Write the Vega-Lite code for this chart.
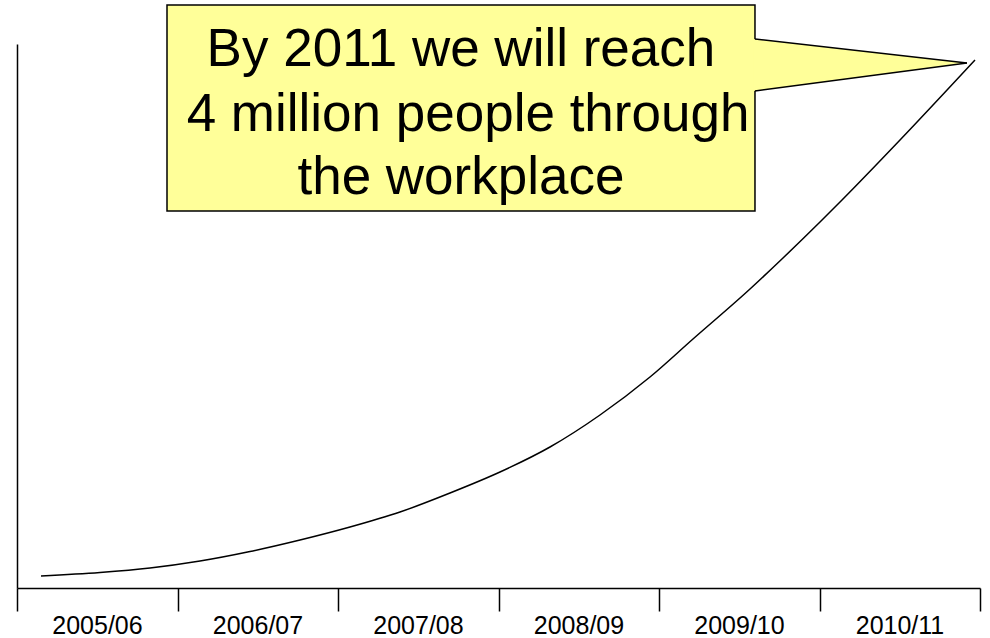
{
  "$schema": "https://vega.github.io/schema/vega-lite/v6.json",
  "width": 963,
  "height": 544,
  "autosize": {"type": "none"},
  "padding": {"left": 17, "top": 44, "right": 10, "bottom": 50},
  "background": "white",
  "config": {"view": {"stroke": null}, "font": "Liberation Sans"},
  "datasets": {
    "curve": [
      {"x": 0.1495, "y": 0.0909},
      {"x": 0.5171, "y": 0.1174},
      {"x": 0.8287, "y": 0.1515},
      {"x": 1.1402, "y": 0.2045},
      {"x": 1.4517, "y": 0.2765},
      {"x": 1.7632, "y": 0.3636},
      {"x": 2.0748, "y": 0.4621},
      {"x": 2.3863, "y": 0.5758},
      {"x": 2.6978, "y": 0.7197},
      {"x": 3.0093, "y": 0.8788},
      {"x": 3.3209, "y": 1.0682},
      {"x": 3.6324, "y": 1.3106},
      {"x": 3.9439, "y": 1.5985},
      {"x": 4.2118, "y": 1.8864},
      {"x": 4.567, "y": 2.2652},
      {"x": 4.7726, "y": 2.5},
      {"x": 5.0031, "y": 2.7727},
      {"x": 5.1402, "y": 2.9394},
      {"x": 5.5016, "y": 3.3939},
      {"x": 5.9688, "y": 4.0}
    ],
    "box": [{"x": 0.9346, "x2": 4.598, "y": 4.417, "y2": 2.856}],
    "pointer": [
      {"x": 4.59, "y": 4.159, "y2": 3.765},
      {"x": 5.919, "y": 3.977, "y2": 3.977}
    ],
    "edges": [
      {"x": 4.598, "y": 4.159, "x2": 5.919, "y2": 3.977},
      {"x": 4.598, "y": 3.765, "x2": 5.919, "y2": 3.977}
    ],
    "labels": [
      {"x": 2.766, "y": 3.954, "text": "By 2011 we will reach"},
      {"x": 2.81, "y": 3.462, "text": "4 million people through"},
      {"x": 2.766, "y": 2.985, "text": "the workplace"}
    ]
  },
  "layer": [
    {
      "data": {"name": "curve"},
      "mark": {"type": "line", "color": "black", "strokeWidth": 1.5, "interpolate": "monotone"},
      "encoding": {
        "x": {
          "field": "x", "type": "quantitative", "title": null,
          "scale": {"domain": [0, 6], "nice": false, "zero": false},
          "axis": {
            "values": [0, 1, 2, 3, 4, 5, 6],
            "grid": false,
            "domainColor": "black", "domainWidth": 1.5,
            "tickColor": "black", "tickWidth": 1.5, "tickSize": 23,
            "labelExpr": "datum.value < 6 ? ['2005/06','2006/07','2007/08','2008/09','2009/10','2010/11'][datum.value] : ''",
            "labelOffset": 80,
            "labelAlign": "center",
            "labelBaseline": "top",
            "labelPadding": 2,
            "labelFontSize": 25,
            "labelColor": "black",
            "labelFont": "Liberation Sans",
            "labelFlush": false,
            "labelOverlap": false,
            "labelBound": false
          }
        },
        "y": {
          "field": "y", "type": "quantitative", "title": null,
          "scale": {"domain": [0, 4.121], "nice": false},
          "axis": {
            "grid": false, "ticks": false, "labels": false,
            "domainColor": "black", "domainWidth": 1.5
          }
        }
      }
    },
    {
      "data": {"name": "box"},
      "mark": {"type": "rect", "fill": "#FFFF99", "stroke": "black", "strokeWidth": 1.5},
      "encoding": {
        "x": {"field": "x", "type": "quantitative", "title": null},
        "x2": {"field": "x2"},
        "y": {"field": "y", "type": "quantitative", "title": null},
        "y2": {"field": "y2"}
      }
    },
    {
      "data": {"name": "pointer"},
      "mark": {"type": "area", "fill": "#FFFF99", "opacity": 1},
      "encoding": {
        "x": {"field": "x", "type": "quantitative", "title": null},
        "y": {"field": "y", "type": "quantitative", "title": null},
        "y2": {"field": "y2"}
      }
    },
    {
      "data": {"name": "edges"},
      "mark": {"type": "rule", "color": "black", "strokeWidth": 1.5},
      "encoding": {
        "x": {"field": "x", "type": "quantitative", "title": null},
        "x2": {"field": "x2"},
        "y": {"field": "y", "type": "quantitative", "title": null},
        "y2": {"field": "y2"}
      }
    },
    {
      "data": {"name": "labels"},
      "mark": {"type": "text", "font": "Liberation Sans", "fontSize": 53, "color": "black", "align": "center", "baseline": "alphabetic"},
      "encoding": {
        "x": {"field": "x", "type": "quantitative", "title": null},
        "y": {"field": "y", "type": "quantitative", "title": null},
        "text": {"field": "text"}
      }
    }
  ]
}
